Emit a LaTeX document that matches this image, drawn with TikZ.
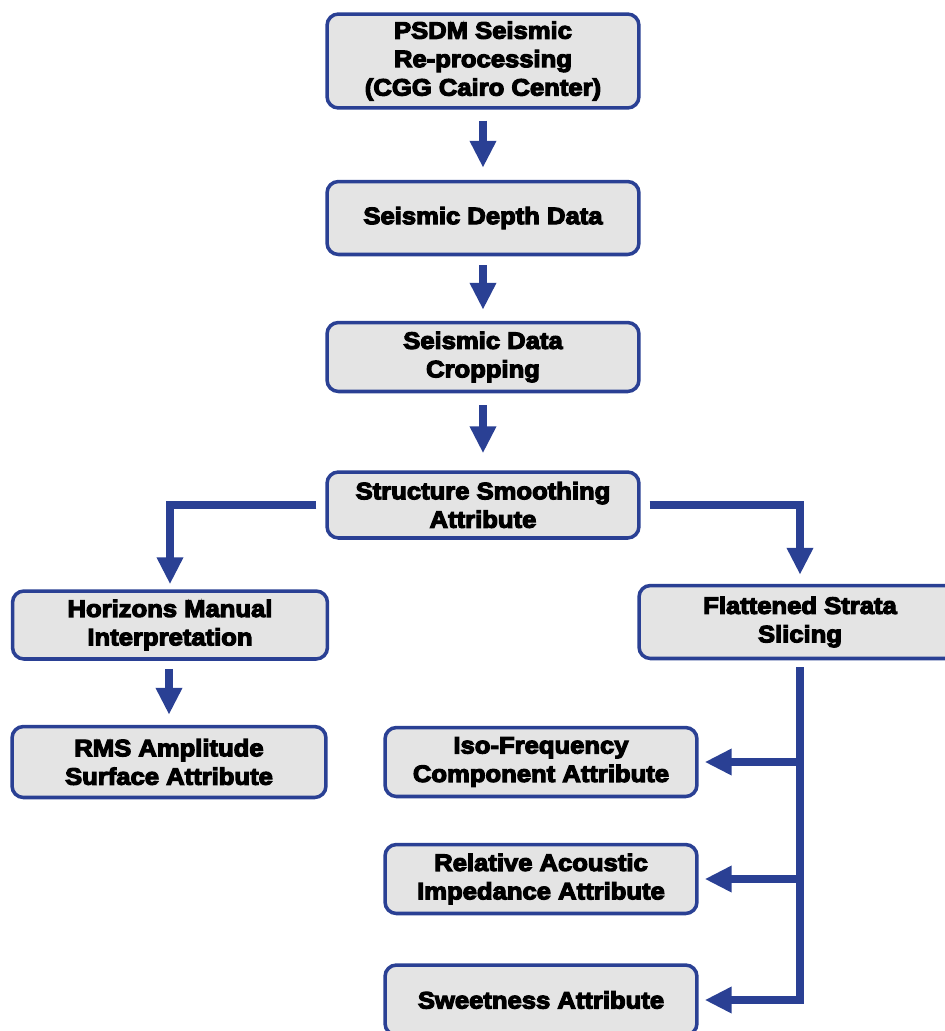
\documentclass[tikz,border=0pt]{standalone}
\usepackage{fontspec}
\setmainfont{Liberation Sans}[BoldFeatures={FakeBold=5,FakeStretch=1.08}]
\usetikzlibrary{arrows.meta}
\definecolor{flowblue}{RGB}{42,64,148}
\definecolor{boxgray}{RGB}{228,228,228}

\begin{document}
\begin{tikzpicture}[x=0.02cm,y=-0.02cm,
  box/.style={draw=flowblue,fill=boxgray,line width=2pt,rounded corners=6.5pt,
    align=center,inner sep=0pt,minimum width=6.24cm,
    font=\fontsize{13.5}{16.2}\selectfont\bfseries},
  link/.style={draw=flowblue,line width=5pt,
    -{Triangle[length=0.54cm,width=0.5cm]}}]
\useasboundingbox (0,0) rectangle (944,1031);
\node[box,minimum height=1.88cm] (p1) at (483,61) {PSDM Seismic\\Re-processing\\(CGG Cairo Center)};
\node[box,minimum height=1.46cm] (p2) at (483,218) {Seismic Depth Data};
\node[box,minimum height=1.38cm] (p3) at (483,357) {Seismic Data\\Cropping};
\node[box,minimum height=1.32cm] (p4) at (483,505) {Structure Smoothing\\Attribute};
\node[box,minimum height=1.36cm,minimum width=6.3cm] (p5) at (170,625) {Horizons Manual\\Interpretation};
\node[box,minimum height=1.42cm,minimum width=6.28cm] (p6) at (169,762) {RMS Amplitude\\Surface Attribute};
\node[box,minimum height=1.46cm,minimum width=6.44cm] (p7) at (800,622) {Flattened Strata\\Slicing};
\node[box,minimum height=1.38cm] (p8) at (541,762) {Iso-Frequency\\Component Attribute};
\node[box,minimum height=1.38cm] (p9) at (541,879) {Relative Acoustic\\Impedance Attribute};
%\node[box] (p10) at (800,1000) {};
\node[box,minimum height=1.4cm] (p11) at (541,1000) {Sweetness Attribute};
\draw [link,shorten <=0.22cm,shorten >=0.24cm] (p1) -- (p2);
\draw [link,shorten <=0.18cm,shorten >=0.22cm] (p2) -- (p3);
\draw [link,shorten <=0.24cm,shorten >=0.34cm] (p3) -- (p4);
\draw [link,shorten <=0.18cm,shorten >=0.1cm] (p4.west) -| (p5.north);
\draw [link,shorten <=0.18cm,shorten >=0.18cm] (p4.east) -| (p7.north);
\draw [link,shorten >=0.2cm] (p6.north |- p5.south) ++(0,-0.16cm) -- (p6.north);
\draw [link,shorten <=0.14cm,shorten >=0.12cm] (p7.south) |- (p11.east);
\draw [link,shorten >=0.12cm] (p7.south |- p8.east) -- (p8.east);
\draw [link,shorten >=0.12cm] (p7.south |- p9.east) -- (p9.east);
\end{tikzpicture}
\end{document}
